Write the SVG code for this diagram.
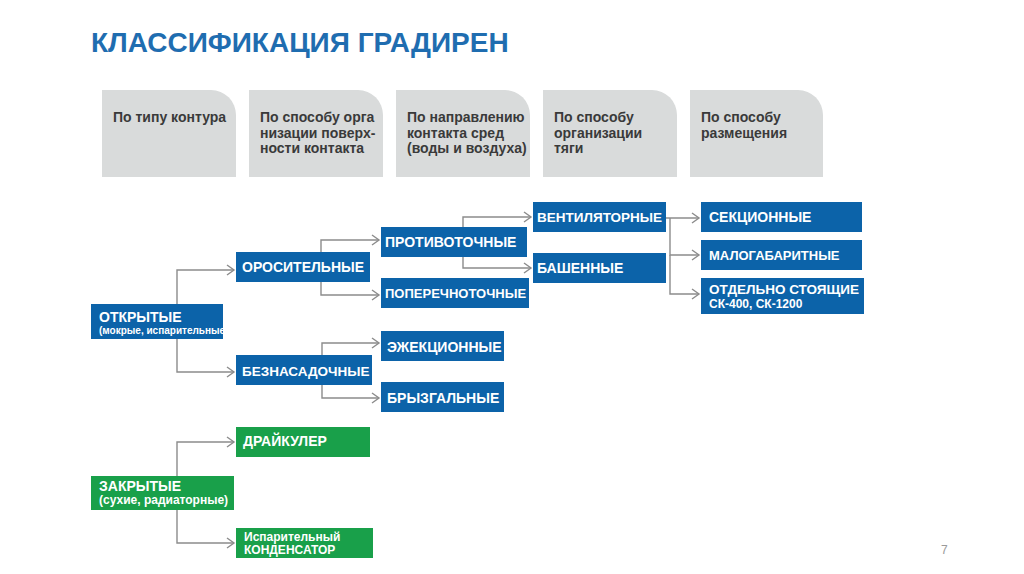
<svg xmlns="http://www.w3.org/2000/svg" width="1024" height="574" viewBox="0 0 1024 574">
<defs>
<style>
.t{font-family:"Liberation Sans",Arial,sans-serif;font-weight:bold}
.hd{fill:#d9dbdb}
.ht{font-family:"Liberation Sans",Arial,sans-serif;font-weight:bold;font-size:14px;fill:#3a3a3a}
.b{fill:#0c63a9}
.g{fill:#19a04a}
.w{font-family:"Liberation Sans",Arial,sans-serif;font-weight:bold;fill:#ffffff}
.f14{font-size:14px}
.f135{font-size:13.5px}
.f13{font-size:13px}
.f12{font-size:12px}
.f10{font-size:10px}
.c{fill:none;stroke:#8c8c8c;stroke-width:1.4}
</style>
<marker id="ar" markerWidth="10" markerHeight="12" refX="8" refY="6" orient="auto" markerUnits="userSpaceOnUse">
<polyline points="1,1 8,6 1,11" fill="none" stroke="#8c8c8c" stroke-width="1.4"/>
</marker>
</defs>
<rect width="1024" height="574" fill="#ffffff"/>
<text class="t" x="91" y="52" font-size="28" fill="#1f6db0">КЛАССИФИКАЦИЯ ГРАДИРЕН</text>

<g id="headers">
<path class="hd" d="M102,90 H211 A25,25 0 0 1 236,115 V177 H102 Z"/>
<path class="hd" d="M249,90 H358 A25,25 0 0 1 383,115 V177 H249 Z"/>
<path class="hd" d="M396,90 H505 A25,25 0 0 1 530,115 V177 H396 Z"/>
<path class="hd" d="M543,90 H652 A25,25 0 0 1 677,115 V177 H543 Z"/>
<path class="hd" d="M690,90 H798 A25,25 0 0 1 823,115 V177 H690 Z"/>
<text class="ht" x="113" y="122">По типу контура</text>
<text class="ht" x="260" y="122">По способу орга</text>
<text class="ht" x="260" y="138">низации поверх-</text>
<text class="ht" x="260" y="153">ности контакта</text>
<text class="ht" x="407" y="122">По направлению</text>
<text class="ht" x="407" y="138">контакта сред</text>
<text class="ht" x="407" y="153">(воды и воздуха)</text>
<text class="ht" x="554" y="122">По способу</text>
<text class="ht" x="554" y="138">организации</text>
<text class="ht" x="554" y="153">тяги</text>
<text class="ht" x="701" y="122">По способу</text>
<text class="ht" x="701" y="138">размещения</text>
</g>

<g id="connectors">
<path class="c" d="M177,304 V270 H234" marker-end="url(#ar)"/>
<path class="c" d="M177,339 V372 H234" marker-end="url(#ar)"/>
<path class="c" d="M321,252 V240 H379" marker-end="url(#ar)"/>
<path class="c" d="M321,282 V295 H379" marker-end="url(#ar)"/>
<path class="c" d="M463,227 V217 H531" marker-end="url(#ar)"/>
<path class="c" d="M463,257 V268 H531" marker-end="url(#ar)"/>
<path class="c" d="M666,218 H699" marker-end="url(#ar)"/>
<path class="c" d="M670,218 V255 H699" marker-end="url(#ar)"/>
<path class="c" d="M670,255 V294 H699" marker-end="url(#ar)"/>
<path class="c" d="M322,355 V343 H379" marker-end="url(#ar)"/>
<path class="c" d="M322,385 V398 H379" marker-end="url(#ar)"/>
<path class="c" d="M177,476 V442 H234" marker-end="url(#ar)"/>
<path class="c" d="M177,510 V543 H234" marker-end="url(#ar)"/>
</g>

<g id="n-open"><rect class="b" x="91" y="304" width="132" height="35"/>
<text class="w f14" x="99" y="322">ОТКРЫТЫЕ</text>
<text class="w f10" x="99" y="334">(мокрые, испарительные)</text></g>

<g id="n-oros"><rect class="b" x="236" y="252" width="134" height="30"/>
<text class="w f14" x="242" y="272">ОРОСИТЕЛЬНЫЕ</text></g>

<g id="n-beznas"><rect class="b" x="236" y="355" width="136" height="30"/>
<text class="w f135" x="242" y="376">БЕЗНАСАДОЧНЫЕ</text></g>

<g id="n-protiv"><rect class="b" x="381" y="227" width="146" height="30"/>
<text class="w f14" x="385" y="247">ПРОТИВОТОЧНЫЕ</text></g>

<g id="n-poper"><rect class="b" x="381" y="278" width="148" height="30"/>
<text class="w f13" x="385" y="298">ПОПЕРЕЧНОТОЧНЫЕ</text></g>

<g id="n-vent"><rect class="b" x="533" y="202" width="133" height="30"/>
<text class="w f135" x="537" y="222">ВЕНТИЛЯТОРНЫЕ</text></g>

<g id="n-bash"><rect class="b" x="533" y="253" width="133" height="30"/>
<text class="w f14" x="537" y="273">БАШЕННЫЕ</text></g>

<g id="n-sekc"><rect class="b" x="701" y="202" width="161" height="30"/>
<text class="w f14" x="709" y="222">СЕКЦИОННЫЕ</text></g>

<g id="n-malo"><rect class="b" x="701" y="240" width="161" height="30"/>
<text class="w f13" x="709" y="260">МАЛОГАБАРИТНЫЕ</text></g>

<g id="n-otd"><rect class="b" x="701" y="278" width="163" height="36"/>
<text class="w f135" x="709" y="294">ОТДЕЛЬНО СТОЯЩИЕ</text>
<text class="w f12" x="709" y="308">СК-400, СК-1200</text></g>

<g id="n-ezhek"><rect class="b" x="381" y="331" width="123" height="30"/>
<text class="w f14" x="387" y="352">ЭЖЕКЦИОННЫЕ</text></g>

<g id="n-bryz"><rect class="b" x="381" y="382" width="123" height="30"/>
<text class="w f14" x="387" y="403">БРЫЗГАЛЬНЫЕ</text></g>

<g id="n-closed"><rect class="g" x="91" y="476" width="143" height="34"/>
<text class="w f14" x="99" y="491">ЗАКРЫТЫЕ</text>
<text class="w f12" x="99" y="504">(сухие, радиаторные)</text></g>

<g id="n-dry"><rect class="g" x="236" y="427" width="134" height="30"/>
<text class="w f14" x="243" y="446">ДРАЙКУЛЕР</text></g>

<g id="n-evap"><rect class="g" x="236" y="528" width="137" height="30"/>
<text class="w f12" x="244" y="541">Испарительный</text>
<text class="w f12" x="244" y="554">КОНДЕНСАТОР</text></g>

<text x="941" y="554" font-family="Liberation Sans,Arial,sans-serif" font-size="12" fill="#9a9a9a">7</text>
</svg>
